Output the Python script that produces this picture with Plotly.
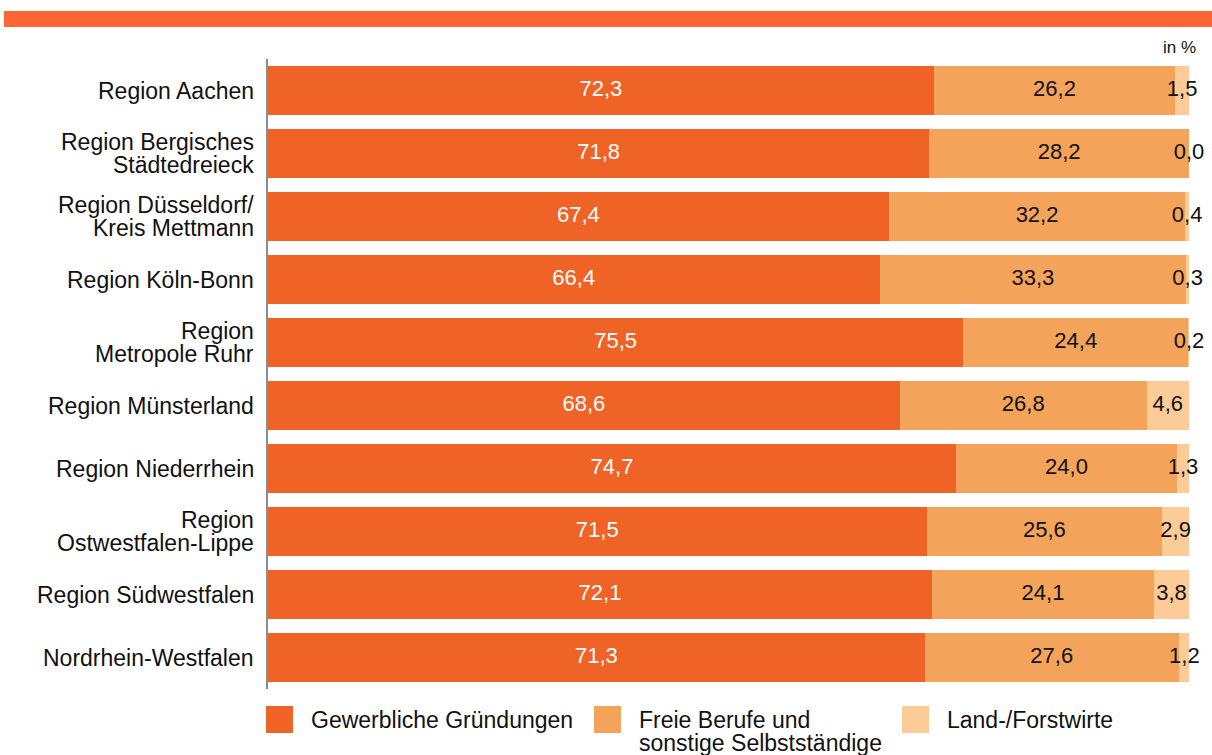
import plotly.graph_objects as go

# ---------------- data ----------------
categories = [
    ["Region Aachen"],
    ["Region Bergisches", "Städtedreieck"],
    ["Region Düsseldorf/", "Kreis Mettmann"],
    ["Region Köln-Bonn"],
    ["Region", "Metropole Ruhr"],
    ["Region Münsterland"],
    ["Region Niederrhein"],
    ["Region", "Ostwestfalen-Lippe"],
    ["Region Südwestfalen"],
    ["Nordrhein-Westfalen"],
]
gewerbliche = [72.3, 71.8, 67.4, 66.4, 75.5, 68.6, 74.7, 71.5, 72.1, 71.3]
freie = [26.2, 28.2, 32.2, 33.3, 24.4, 26.8, 24.0, 25.6, 24.1, 27.6]
land = [1.5, 0.0, 0.4, 0.3, 0.2, 4.6, 1.3, 2.9, 3.8, 1.2]
series_names = ["Gewerbliche Gründungen", "Freie Berufe und<br>sonstige Selbstständige", "Land-/Forstwirte"]
unit_label = "in %"

# ---------------- style ----------------
W, H = 1212, 755
ML, MR, MT, MB = 268, 23, 59, 66
PW, PH = W - ML - MR, H - MT - MB
colors = ["#EF6327", "#F4A35A", "#FDCB97"]
text_colors = ["#FFFFFF", "#111111", "#111111"]
band_color = "#FF6633"
FONT = "Liberation Sans, Arial, sans-serif"
FS = 23
FS_VAL = 22


def px_x(px):
    return (px - ML) / PW


def px_y(py):
    return (H - MB - py) / PH


def fmt(v):
    return f"{v:.1f}".replace(".", ",")


ykeys = [" ".join(c) for c in categories]
series = [gewerbliche, freie, land]

fig = go.Figure()
for vals, name, col in zip(series, series_names, colors):
    fig.add_trace(go.Bar(
        y=ykeys, x=vals, orientation="h", name=name,
        marker=dict(color=col, line=dict(width=0)),
        showlegend=False, hoverinfo="skip",
    ))

# value labels, centred on each segment
base = [0.0] * len(ykeys)
for vals, tcol in zip(series, text_colors):
    centers = [b + v / 2 for b, v in zip(base, vals)]
    fig.add_trace(go.Scatter(
        y=ykeys, x=centers, mode="text", text=[fmt(v) for v in vals],
        textfont=dict(family=FONT, size=FS_VAL, color=tcol),
        textposition="middle center", showlegend=False, hoverinfo="skip",
        cliponaxis=False,
    ))
    base = [b + v for b, v in zip(base, vals)]

annotations = []
# category labels (one annotation per line for tight line spacing)
for key, lines in zip(ykeys, categories):
    n = len(lines)
    for i, line in enumerate(lines):
        shift = (n - 1) / 2 * 23 - i * 23
        annotations.append(dict(
            x=0, xref="paper", y=key, yref="y", text=line, showarrow=False,
            xanchor="right", yanchor="middle", xshift=-12, yshift=shift,
            font=dict(family=FONT, size=FS, color="#111111"),
        ))

annotations.append(dict(
    x=px_x(1198), xref="paper", y=px_y(47), yref="paper", text=unit_label,
    showarrow=False, xanchor="right", yanchor="middle",
    font=dict(family=FONT, size=17, color="#111111"),
))

shapes = [dict(
    type="rect", xref="paper", yref="paper",
    x0=px_x(4), x1=px_x(1212), y0=px_y(27), y1=px_y(11),
    fillcolor=band_color, line=dict(width=0), layer="above",
)]

# custom legend
legend_x = [266, 594, 902]
for lx, name, col in zip(legend_x, series_names, colors):
    shapes.append(dict(
        type="rect", xref="paper", yref="paper",
        x0=px_x(lx), x1=px_x(lx + 27), y0=px_y(733), y1=px_y(706),
        fillcolor=col, line=dict(width=0),
    ))
    for i, line in enumerate(name.split("<br>")):
        annotations.append(dict(
            x=px_x(lx + 43), xref="paper", y=px_y(720 + 23 * i), yref="paper",
            text=line, showarrow=False, xanchor="left", yanchor="middle",
            font=dict(family=FONT, size=FS, color="#111111"),
        ))

fig.update_layout(
    width=W, height=H,
    margin=dict(l=ML, r=MR, t=MT, b=MB, pad=0),
    barmode="stack", bargap=0.237,
    plot_bgcolor="white", paper_bgcolor="white",
    xaxis=dict(range=[0, 100], visible=False, fixedrange=True),
    yaxis=dict(autorange="reversed", showticklabels=False, ticks="",
               showgrid=False, zeroline=False, showline=True,
               linecolor="#8C8C8C", linewidth=2, fixedrange=True),
    annotations=annotations, shapes=shapes,
    font=dict(family=FONT, size=FS),
)

fig.write_html(
    "out.html",
    config={"displayModeBar": False},
    post_script="document.body.style.margin='0';document.body.style.overflow='hidden';",
)
